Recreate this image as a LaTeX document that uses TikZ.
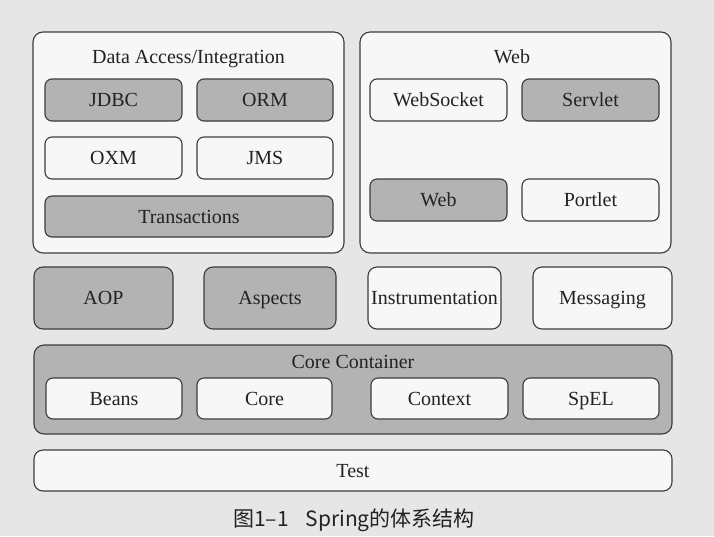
\documentclass[tikz,border=0pt]{standalone}
\usepackage{fontspec}
\setmainfont{Liberation Serif}
\newfontfamily\cjk{Noto Sans CJK SC}
\definecolor{pagebg}{HTML}{E6E6E6}
\definecolor{boxgray}{HTML}{B3B3B3}
\definecolor{boxwhite}{HTML}{F7F7F7}
\definecolor{edge}{HTML}{3C3C3C}
\definecolor{ink}{HTML}{222222}
\begin{document}
\begin{tikzpicture}[x=1pt,y=-1pt,
  every node/.style={inner sep=0pt,outer sep=0pt,font=\fontsize{20}{22}\selectfont,text=ink},
  mod/.style={draw=edge,line width=1.1pt,rounded corners=7pt,text height=13.2pt,text depth=0pt},
  gmod/.style={mod,fill=boxgray},
  wmod/.style={mod,fill=boxwhite},
  group/.style={draw=edge,line width=1.1pt,rounded corners=10pt},
  ttl/.style={text height=13.2pt,text depth=0pt}
]
\useasboundingbox (0,0) rectangle (714,536);
\fill[pagebg] (0,0) rectangle (714,536);

% Data Access/Integration
\node[group,fill=boxwhite,minimum width=311pt,minimum height=221pt] (da) at (188.5,142.5) {};
\node[ttl] (daT) at (188.5,57) {Data Access/Integration};
\node[gmod,minimum width=137pt,minimum height=42pt] (jdbc) at (113.5,100) {JDBC};
\node[gmod,minimum width=136pt,minimum height=42pt] (orm) at (265,100) {ORM};
\node[wmod,minimum width=137pt,minimum height=42pt] (oxm) at (113.5,158) {OXM};
\node[wmod,minimum width=136pt,minimum height=42pt] (jms) at (265,158) {JMS};
\node[gmod,minimum width=288pt,minimum height=41pt] (tx) at (189,216.5) {Transactions};

% Web
\node[group,fill=boxwhite,minimum width=311pt,minimum height=221pt] (web) at (515.5,142.5) {};
\node[ttl] (webT) at (512,57) {Web};
\node[wmod,minimum width=137pt,minimum height=42pt] (ws) at (438.5,100) {WebSocket};
\node[gmod,minimum width=137pt,minimum height=42pt] (servlet) at (590.5,100) {Servlet};
\node[gmod,minimum width=137pt,minimum height=42pt] (webm) at (438.5,200) {Web};
\node[wmod,minimum width=137pt,minimum height=42pt] (portlet) at (590.5,200) {Portlet};

% middle row
\node[gmod,rounded corners=9pt,minimum width=139pt,minimum height=62pt] (aop) at (103.5,298) {AOP};
\node[gmod,rounded corners=9pt,minimum width=132pt,minimum height=62pt] (asp) at (270,298) {Aspects};
\node[wmod,rounded corners=9pt,minimum width=133pt,minimum height=62pt] (instr) at (434.5,298) {Instrumentation};
\node[wmod,rounded corners=9pt,minimum width=139pt,minimum height=62pt] (msg) at (602.5,298) {Messaging};

% Core Container
\node[group,fill=boxgray,minimum width=638pt,minimum height=89pt] (cc) at (353,389.5) {};
\node[ttl] (ccT) at (353,362) {Core Container};
\node[wmod,minimum width=136pt,minimum height=41pt] (beans) at (114,398.5) {Beans};
\node[wmod,minimum width=135pt,minimum height=41pt] (core) at (264.5,398.5) {Core};
\node[wmod,minimum width=137pt,minimum height=41pt] (ctx) at (439.5,398.5) {Context};
\node[wmod,minimum width=136pt,minimum height=41pt] (spel) at (591,398.5) {SpEL};

% Test
\node[wmod,rounded corners=9pt,minimum width=638pt,minimum height=41pt] (test) at (353,470.5) {Test};

% caption
\node[font=\cjk\fontsize{21}{24}\selectfont,text=ink,text height=15.3pt,text depth=0pt] (cap) at (354,519) {图1–1\hspace{0.8em}Spring的体系结构};
\end{tikzpicture}
\end{document}
